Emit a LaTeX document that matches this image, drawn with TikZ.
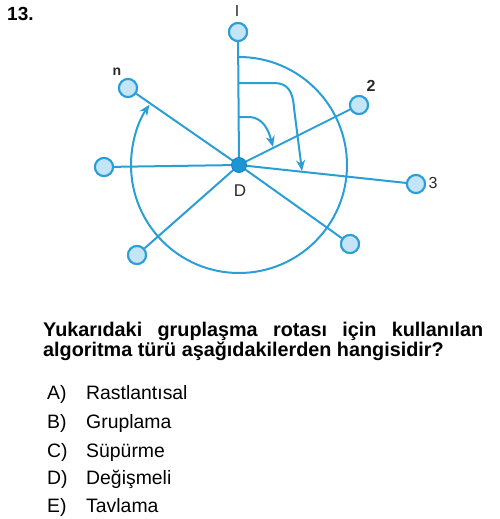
\documentclass[tikz,border=0pt]{standalone}
\usepackage{fontspec}
\setmainfont{Liberation Sans}
\usetikzlibrary{arrows.meta}
\definecolor{lineblue}{HTML}{2A9FD6}
\definecolor{nodefill}{HTML}{C4E5F7}
\definecolor{dfill}{HTML}{1B96D4}
\definecolor{labelgray}{HTML}{2A2A2A}
\begin{document}
\begin{tikzpicture}[x=1pt,y=1pt,
  conn/.style={draw=lineblue,line width=2pt},
  endpt/.style={circle,draw=lineblue,fill=nodefill,line width=2pt,minimum size=18pt,inner sep=0pt},
  center/.style={circle,draw=dfill!85!black,fill=dfill,line width=0.8pt,minimum size=15pt,inner sep=0pt},
  lab/.style={text=labelgray,inner sep=0pt},
  sweep/.style={draw=lineblue,line width=2pt,-{Stealth[length=11pt,width=9pt]}},
  opt/.style={anchor=base west,inner sep=0pt,font=\fontsize{19.4}{22}\selectfont}]
\useasboundingbox (0,0) rectangle (500,-519);
\fill[white] (0,0) rectangle (500,-519);

% title number
\node[anchor=base west,inner sep=0pt,font=\bfseries\fontsize{19}{20}\selectfont] (num) at (7,-21) {13.};

% diagram coordinates
\coordinate (cD) at (239,-165);
% main circle arc with arrow to the n line
\draw[sweep] (239,-57) arc[start angle=90,end angle=-214,radius=108];

% inner sweep arrows
\draw[sweep] (239,-83) -- (274,-83) .. controls (288,-83) and (293,-92) .. (294,-108) -- (302,-171);
\draw[sweep] (239,-117) -- (250,-117) .. controls (262,-118) and (268,-128) .. (273,-147);

% spokes
\node[endpt] (nI) at (238,-32) {};
\node[endpt] (nn) at (128,-88) {};
\node[endpt] (n2) at (359,-105) {};
\node[endpt] (n3) at (416,-184) {};
\node[endpt] (nL) at (104,-167) {};
\node[endpt] (nLL) at (137,-255) {};
\node[endpt] (nLR) at (350,-244) {};
\foreach \t in {nI,nn,n2,n3,nL,nLL,nLR}{\draw[conn] (cD) -- (\t);}
% redraw end nodes on top
\foreach \t in {nI,nn,n2,n3,nL,nLL,nLR}{\node[endpt] at (\t) {};}
\node[center] (D) at (cD) {};

% labels
\node[lab,font=\fontsize{16}{16}\selectfont] (lI) at (237,-11) {I};
\node[lab,font=\bfseries\fontsize{14}{16}\selectfont] (ln) at (117,-72) {n};
\node[lab,font=\bfseries\fontsize{16}{16}\selectfont] (l2) at (371,-86) {2};
\node[lab,font=\fontsize{16}{16}\selectfont] (l3) at (433,-183) {3};
\node[lab,font=\fontsize{17}{16}\selectfont] (lD) at (240,-191) {D};

% question
\node[anchor=north west,inner sep=0pt,text width=440pt,align=justify,
      font=\bfseries\fontsize{19.8}{20}\selectfont] (q) at (43,-322)
  {Yukarıdaki gruplaşma rotası için kullanılan\linebreak algoritma türü aşağıdakilerden hangisidir?};

% options
\node[opt] (oA) at (47,-399) {A)};
\node[opt] (tA) at (86,-399) {Rastlantısal};
\node[opt] (oB) at (47,-428) {B)};
\node[opt] (tB) at (86,-428) {Gruplama};
\node[opt] (oC) at (47,-457) {C)};
\node[opt] (tC) at (86,-457) {Süpürme};
\node[opt] (oD) at (47,-484) {D)};
\node[opt] (tD) at (86,-484) {Değişmeli};
\node[opt] (oE) at (47,-512) {E)};
\node[opt] (tE) at (86,-512) {Tavlama};
\end{tikzpicture}
\end{document}
